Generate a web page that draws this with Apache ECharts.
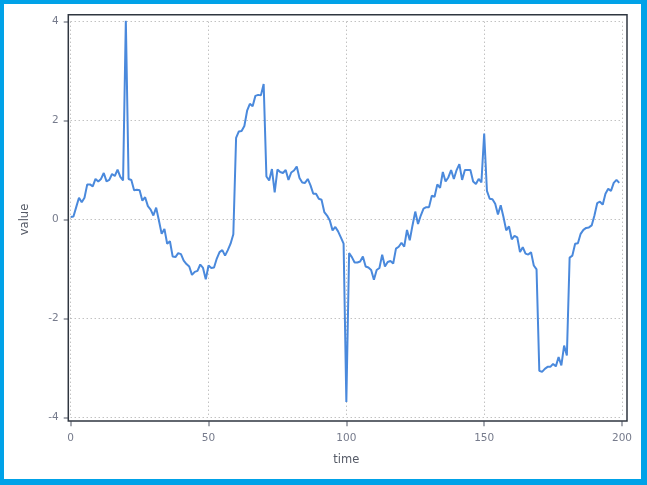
<!DOCTYPE html>
<html><head><meta charset="utf-8">
<script src="https://cdn.jsdelivr.net/npm/echarts@6/dist/echarts.min.js"></script>
<style>
html,body{margin:0;padding:0;background:#fff;}
#wrap{position:absolute;left:0;top:0;width:647px;height:485px;box-sizing:border-box;border-style:solid;border-color:#00a2e8;border-width:4px 6px 6px 4px;background:#fff;}
#chart{width:637px;height:475px;}
</style></head>
<body><div id="wrap"><div id="chart"></div></div>
<script>
const values = [
 0.05,0.06,0.25,0.44,0.35,0.44,0.71,0.71,0.67,0.82,
 0.77,0.82,0.94,0.77,0.80,0.92,0.88,1.01,0.86,0.79,
 4.03,0.82,0.80,0.59,0.60,0.59,0.38,0.45,0.27,0.20,
 0.08,0.24,-0.02,-0.29,-0.19,-0.49,-0.44,-0.75,-0.76,-0.68,
 -0.70,-0.83,-0.90,-0.95,-1.12,-1.06,-1.04,-0.91,-0.98,-1.21,
 -0.93,-0.98,-0.97,-0.79,-0.66,-0.62,-0.73,-0.62,-0.49,-0.30,
 1.65,1.78,1.79,1.89,2.20,2.34,2.29,2.50,2.52,2.51,
 2.74,0.87,0.79,1.02,0.55,1.01,0.96,0.94,1.00,0.80,
 0.95,0.99,1.07,0.84,0.75,0.74,0.82,0.69,0.52,0.52,
 0.42,0.40,0.15,0.08,-0.02,-0.22,-0.15,-0.24,-0.36,-0.49,
 -3.69,-0.68,-0.76,-0.87,-0.87,-0.85,-0.75,-0.95,-0.97,-1.02,
 -1.22,-1.02,-0.98,-0.71,-0.95,-0.86,-0.84,-0.89,-0.59,-0.55,
 -0.47,-0.55,-0.21,-0.42,-0.12,0.16,-0.09,0.08,0.22,0.25,
 0.25,0.48,0.46,0.71,0.64,0.96,0.77,0.85,1.00,0.82,
 1.00,1.12,0.80,1.00,1.00,1.00,0.77,0.72,0.82,0.75,
 1.74,0.58,0.42,0.41,0.32,0.10,0.29,0.05,-0.22,-0.14,
 -0.40,-0.33,-0.36,-0.66,-0.56,-0.69,-0.71,-0.66,-0.93,-1.01,
 -3.06,-3.08,-3.02,-2.98,-2.98,-2.92,-2.97,-2.78,-2.95,-2.55,
 -2.75,-0.77,-0.73,-0.49,-0.48,-0.29,-0.21,-0.17,-0.16,-0.12,
 0.08,0.33,0.36,0.30,0.52,0.62,0.58,0.74,0.80,0.74
];
const times = values.map((v,i)=>i);
const xTicks = [0,50,100,150,200];
const yTicks = [-4,-2,0,2,4];

const chart = echarts.init(document.getElementById('chart'), null, {renderer:'canvas'});
const labelColor = '#767b8c';
const font = 'DejaVu Sans';
chart.setOption({
  animation:false,
  backgroundColor:'#fff',
  textStyle:{fontFamily:font},
  grid:{left:66.7, top:17.7, right:19, bottom:61.7, containLabel:false},
  graphic:[{type:'rect', shape:{x:64.3,y:10.7,width:558.7,height:406.3}, style:{fill:'none',stroke:'#2f3640',lineWidth:1.5}, z:100}],
  xAxis:{type:'value', min:xTicks[0], max:xTicks[xTicks.length-1], interval:50, offset:4,
    name:'time', nameLocation:'middle', nameGap:33, nameTextStyle:{color:'#555a66', fontSize:11.5, fontFamily:font},
    axisLine:{show:false, onZero:false}, axisTick:{show:true,length:5,lineStyle:{color:'#8a8f99',width:1.5}},
    axisLabel:{color:labelColor, fontSize:10.5, margin:11, fontFamily:font},
    splitLine:{show:true, lineStyle:{color:'#a6a6a6', type:[1,3], width:1}}},
  yAxis:{type:'value', min:yTicks[0], max:yTicks[yTicks.length-1], interval:2, offset:2,
    name:'value', nameLocation:'middle', nameGap:38, nameRotate:90, nameTextStyle:{color:'#555a66', fontSize:11.5, fontFamily:font},
    axisLine:{show:false, onZero:false}, axisTick:{show:true,length:5,lineStyle:{color:'#8a8f99',width:1.5}},
    axisLabel:{color:labelColor, fontSize:10.5, margin:10, fontFamily:font},
    splitLine:{show:true, lineStyle:{color:'#a6a6a6', type:[1,3], width:1}}},
  series:[{type:'line', data:times.map((t,i)=>[t,values[i]]), showSymbol:false,
    lineStyle:{color:'#4a89dc', width:2}, itemStyle:{color:'#4a89dc'}}]
});
</script></body></html>
